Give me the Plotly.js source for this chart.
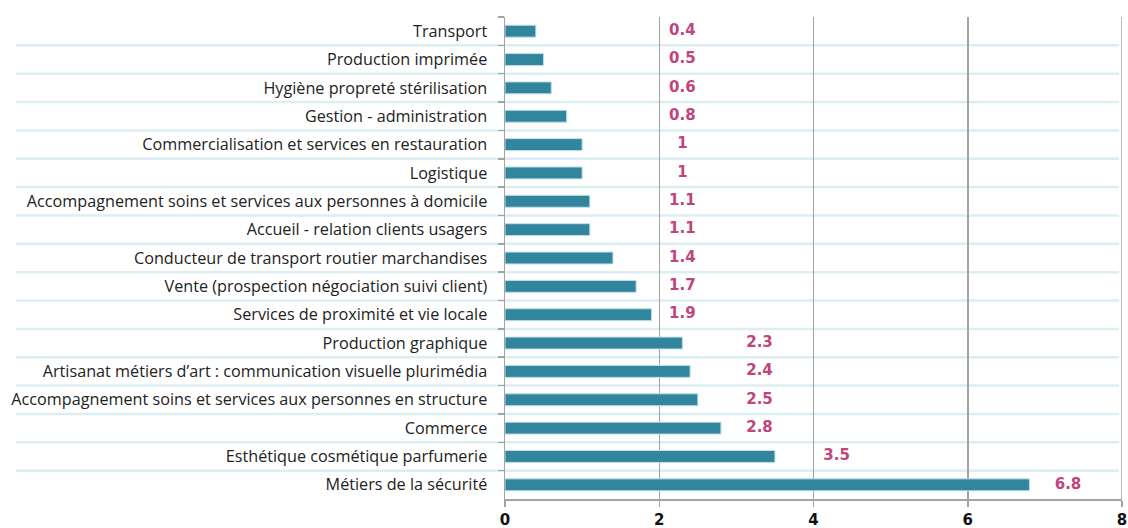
<!DOCTYPE html>
<html>
<head>
<meta charset="utf-8">
<script src="https://cdn.plot.ly/plotly-3.0.1.min.js"></script>
<style>
  html, body { margin: 0; padding: 0; background: #fff; }
  #chart { width: 1128px; height: 528px; }
</style>
</head>
<body>
<div id="chart"></div>
<script>
// metiers, top to bottom as in the picture
const categories = [
  'Transport',
  'Production imprimée',
  'Hygiène propreté stérilisation',
  'Gestion - administration',
  'Commercialisation et services en restauration',
  'Logistique',
  'Accompagnement soins et services aux personnes à domicile',
  'Accueil - relation clients usagers',
  'Conducteur de transport routier marchandises',
  'Vente (prospection négociation suivi client)',
  'Services de proximité et vie locale',
  'Production graphique',
  'Artisanat métiers d\u2019art : communication visuelle plurimédia',
  'Accompagnement soins et services aux personnes en structure',
  'Commerce',
  'Esthétique cosmétique parfumerie',
  'Métiers de la sécurité'
];
const values = [0.4, 0.5, 0.6, 0.8, 1, 1, 1.1, 1.1, 1.4, 1.7, 1.9, 2.3, 2.4, 2.5, 2.8, 3.5, 6.8];
const xTicks = [0, 2, 4, 6, 8];

const barColor = '#31859c';
const labelColor = '#c0457b';
const gridColor = '#a3a3a3';
const bandColor = '#dcedf4';

// labels sit in the gap after the next whole number (min 2)
const labelX = values.map(v => Math.max(Math.ceil(v), 2) + 0.3);

const bars = {
  type: 'bar',
  orientation: 'h',
  x: values,
  y: categories,
  width: 0.42,
  marker: { color: barColor, line: { color: '#bfe0ea', width: 1 } },
  hoverinfo: 'x+y'
};

const labels = {
  type: 'scatter',
  mode: 'text',
  x: labelX,
  y: categories,
  text: values.map(v => String(v)),
  textposition: 'middle center',
  textfont: { family: 'DejaVu Sans, sans-serif', size: 15, color: labelColor, weight: 'bold' },
  hoverinfo: 'skip'
};

// light blue separators between rows, running under the labels too
const shapes = [];
for (let i = 0; i < categories.length - 1; i++) {
  shapes.push({
    type: 'line',
    xref: 'paper', yref: 'y',
    x0: -0.793, x1: 0.995,
    y0: i + 0.5, y1: i + 0.5,
    line: { color: bandColor, width: 2.5 },
    layer: 'below'
  });
}
// grid line at the far right end
shapes.push({
  type: 'line',
  xref: 'x', yref: 'paper',
  x0: xTicks[xTicks.length - 1], x1: xTicks[xTicks.length - 1],
  y0: 0, y1: 1,
  line: { color: gridColor, width: 1.5 },
  layer: 'below'
});

const layout = {
  width: 1128,
  height: 528,
  margin: { l: 505, r: 6, t: 17, b: 29 },
  paper_bgcolor: '#ffffff',
  plot_bgcolor: '#ffffff',
  showlegend: false,
  xaxis: {
    range: [0, 8],
    tickvals: xTicks,
    ticktext: xTicks.map(String),
    showgrid: true,
    gridcolor: gridColor,
    gridwidth: 1.5,
    zeroline: false,
    showline: true,
    linecolor: gridColor,
    linewidth: 1.5,
    ticks: 'outside',
    ticklen: 6,
    tickcolor: gridColor,
    tickwidth: 1.5,
    tickfont: { family: 'DejaVu Sans, sans-serif', size: 15, color: '#111', weight: 'bold' },
    fixedrange: true
  },
  yaxis: {
    type: 'category',
    range: [categories.length - 0.5, -0.5],
    showgrid: false,
    zeroline: false,
    showline: true,
    linecolor: gridColor,
    linewidth: 1.5,
    ticks: 'outside',
    tickson: 'boundaries',
    ticklen: 6,
    tickcolor: gridColor,
    tickwidth: 1.5,
    ticklabelstandoff: 13,
    tickfont: { family: 'Open Sans, sans-serif', size: 16.2, color: '#222' },
    fixedrange: true
  },
  shapes: shapes
};

Plotly.newPlot('chart', [bars, labels], layout, { displayModeBar: false, staticPlot: true });
</script>
</body>
</html>
